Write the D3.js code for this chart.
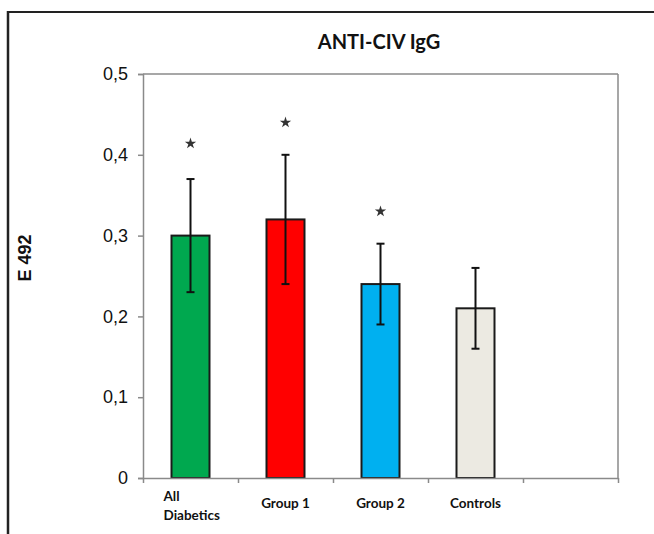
<!DOCTYPE html>
<html><head><meta charset="utf-8">
<script src="https://cdn.jsdelivr.net/npm/d3@7"></script>
<style>body{margin:0;background:#fff}svg{display:block}</style>
</head><body>
<svg id="c" width="654" height="534"></svg>
<script>
const categories = [["All","Diabetics"],["Group 1"],["Group 2"],["Controls"],[""]];
const values = [0.30, 0.32, 0.24, 0.21, null];
const errLow = [0.23, 0.24, 0.19, 0.16, null];
const errHigh = [0.37, 0.40, 0.29, 0.26, null];
const stars = [0.414, 0.44, 0.33, null, null];
const colors = ["#00A84F", "#FF0000", "#00B0F0", "#ECEAE2", "none"];
const yTicks = [0, 0.1, 0.2, 0.3, 0.4, 0.5];
const yTickLabels = ["0", "0,1", "0,2", "0,3", "0,4", "0,5"];
const title = "ANTI-CIV IgG";
const yLabel = "E 492";

const svg = d3.select("#c");
const L = 143, R = 618, T = 74, B = 478;
const idx = d3.range(categories.length);
const x = d3.scaleBand().domain(idx).range([L, R]).paddingInner(0).paddingOuter(0);
const y = d3.scaleLinear().domain([0, 0.5]).range([B, T]);

// outer frame
svg.append("line").attr("x1", 8).attr("x2", 654).attr("y1", 12).attr("y2", 12).attr("stroke", "#222").attr("stroke-width", 2);
svg.append("line").attr("x1", 8).attr("x2", 8).attr("y1", 11).attr("y2", 534).attr("stroke", "#222").attr("stroke-width", 2.5);

// plot frame (top/right)
const grey = "#8a8a8a";
svg.append("line").attr("x1", L).attr("x2", R).attr("y1", T).attr("y2", T).attr("stroke", grey).attr("stroke-width", 1.5);
svg.append("line").attr("x1", R).attr("x2", R).attr("y1", T).attr("y2", B).attr("stroke", grey).attr("stroke-width", 1.5);

// bars
const bw = x.bandwidth() * 0.4;
const data = idx.filter(i => values[i] != null);
svg.append("g").selectAll("rect").data(data).join("rect")
  .attr("x", i => x(i) + x.bandwidth() / 2 - bw / 2)
  .attr("width", bw)
  .attr("y", i => y(values[i]))
  .attr("height", i => B - y(values[i]))
  .attr("fill", i => colors[i])
  .attr("stroke", "#1a1a1a").attr("stroke-width", 2);

// axes
const yAxis = d3.axisLeft(y).tickValues(yTicks).tickFormat((d, i) => yTickLabels[i]).tickSize(5).tickPadding(10);
const gy = svg.append("g").attr("transform", `translate(${L},0)`).call(yAxis);
gy.select(".domain").attr("stroke", grey).attr("stroke-width", 1.5);
gy.selectAll(".tick line").attr("stroke", grey).attr("stroke-width", 1.5);
gy.selectAll(".tick text").attr("font-family", "Liberation Sans, Arial, sans-serif").attr("font-size", 18).attr("fill", "#111");

const xb = d3.scaleLinear().domain([0, categories.length]).range([L, R]);
const xAxis = d3.axisBottom(xb).tickValues(d3.range(categories.length + 1)).tickFormat("").tickSize(5).tickSizeOuter(0);
const gx = svg.append("g").attr("transform", `translate(0,${B})`).call(xAxis);
gx.select(".domain").attr("stroke", grey).attr("stroke-width", 1.5);
gx.selectAll(".tick line").attr("stroke", grey).attr("stroke-width", 1.5);

// error bars
const eb = svg.append("g").attr("stroke", "#111").attr("stroke-width", 2);
data.forEach(i => {
  const cx = x(i) + x.bandwidth() / 2;
  eb.append("line").attr("x1", cx).attr("x2", cx).attr("y1", y(errHigh[i])).attr("y2", y(errLow[i]));
  eb.append("line").attr("x1", cx - 4).attr("x2", cx + 4).attr("y1", y(errHigh[i])).attr("y2", y(errHigh[i]));
  eb.append("line").attr("x1", cx - 4).attr("x2", cx + 4).attr("y1", y(errLow[i])).attr("y2", y(errLow[i]));
});

// stars
svg.append("g").selectAll("path").data(idx.filter(i => stars[i] != null)).join("path")
  .attr("d", d3.symbol().type(d3.symbolStar).size(40))
  .attr("transform", i => `translate(${x(i) + x.bandwidth() / 2},${y(stars[i])})`)
  .attr("fill", "#333");

// category labels
const font = "Lato, 'Open Sans', sans-serif";
categories.forEach((lines, i) => {
  const cx = x(i) + x.bandwidth() / 2;
  if (lines.length === 1) {
    svg.append("text").attr("x", cx).attr("y", 508).attr("text-anchor", "middle")
      .attr("font-family", font).attr("font-weight", "bold").attr("font-size", 13.5).attr("fill", "#111").text(lines[0]);
  } else {
    const t = svg.append("text").attr("font-family", font).attr("font-weight", "bold").attr("font-size", 13.5).attr("fill", "#111");
    const left = cx - 27;
    lines.forEach((s, k) => t.append("tspan").attr("x", left).attr("y", 501 + k * 19).text(s));
  }
});

// title
svg.append("text").attr("x", 379).attr("y", 49).attr("text-anchor", "middle")
  .attr("font-family", font).attr("font-weight", "bold").attr("font-size", 20).attr("fill", "#111").text(title);

// y label
svg.append("text").attr("transform", "translate(31,258) rotate(-90)").attr("text-anchor", "middle")
  .attr("font-family", "Liberation Sans, Arial, sans-serif").attr("font-weight", "bold").attr("font-size", 18).attr("fill", "#111").text(yLabel);
</script>
</body></html>
